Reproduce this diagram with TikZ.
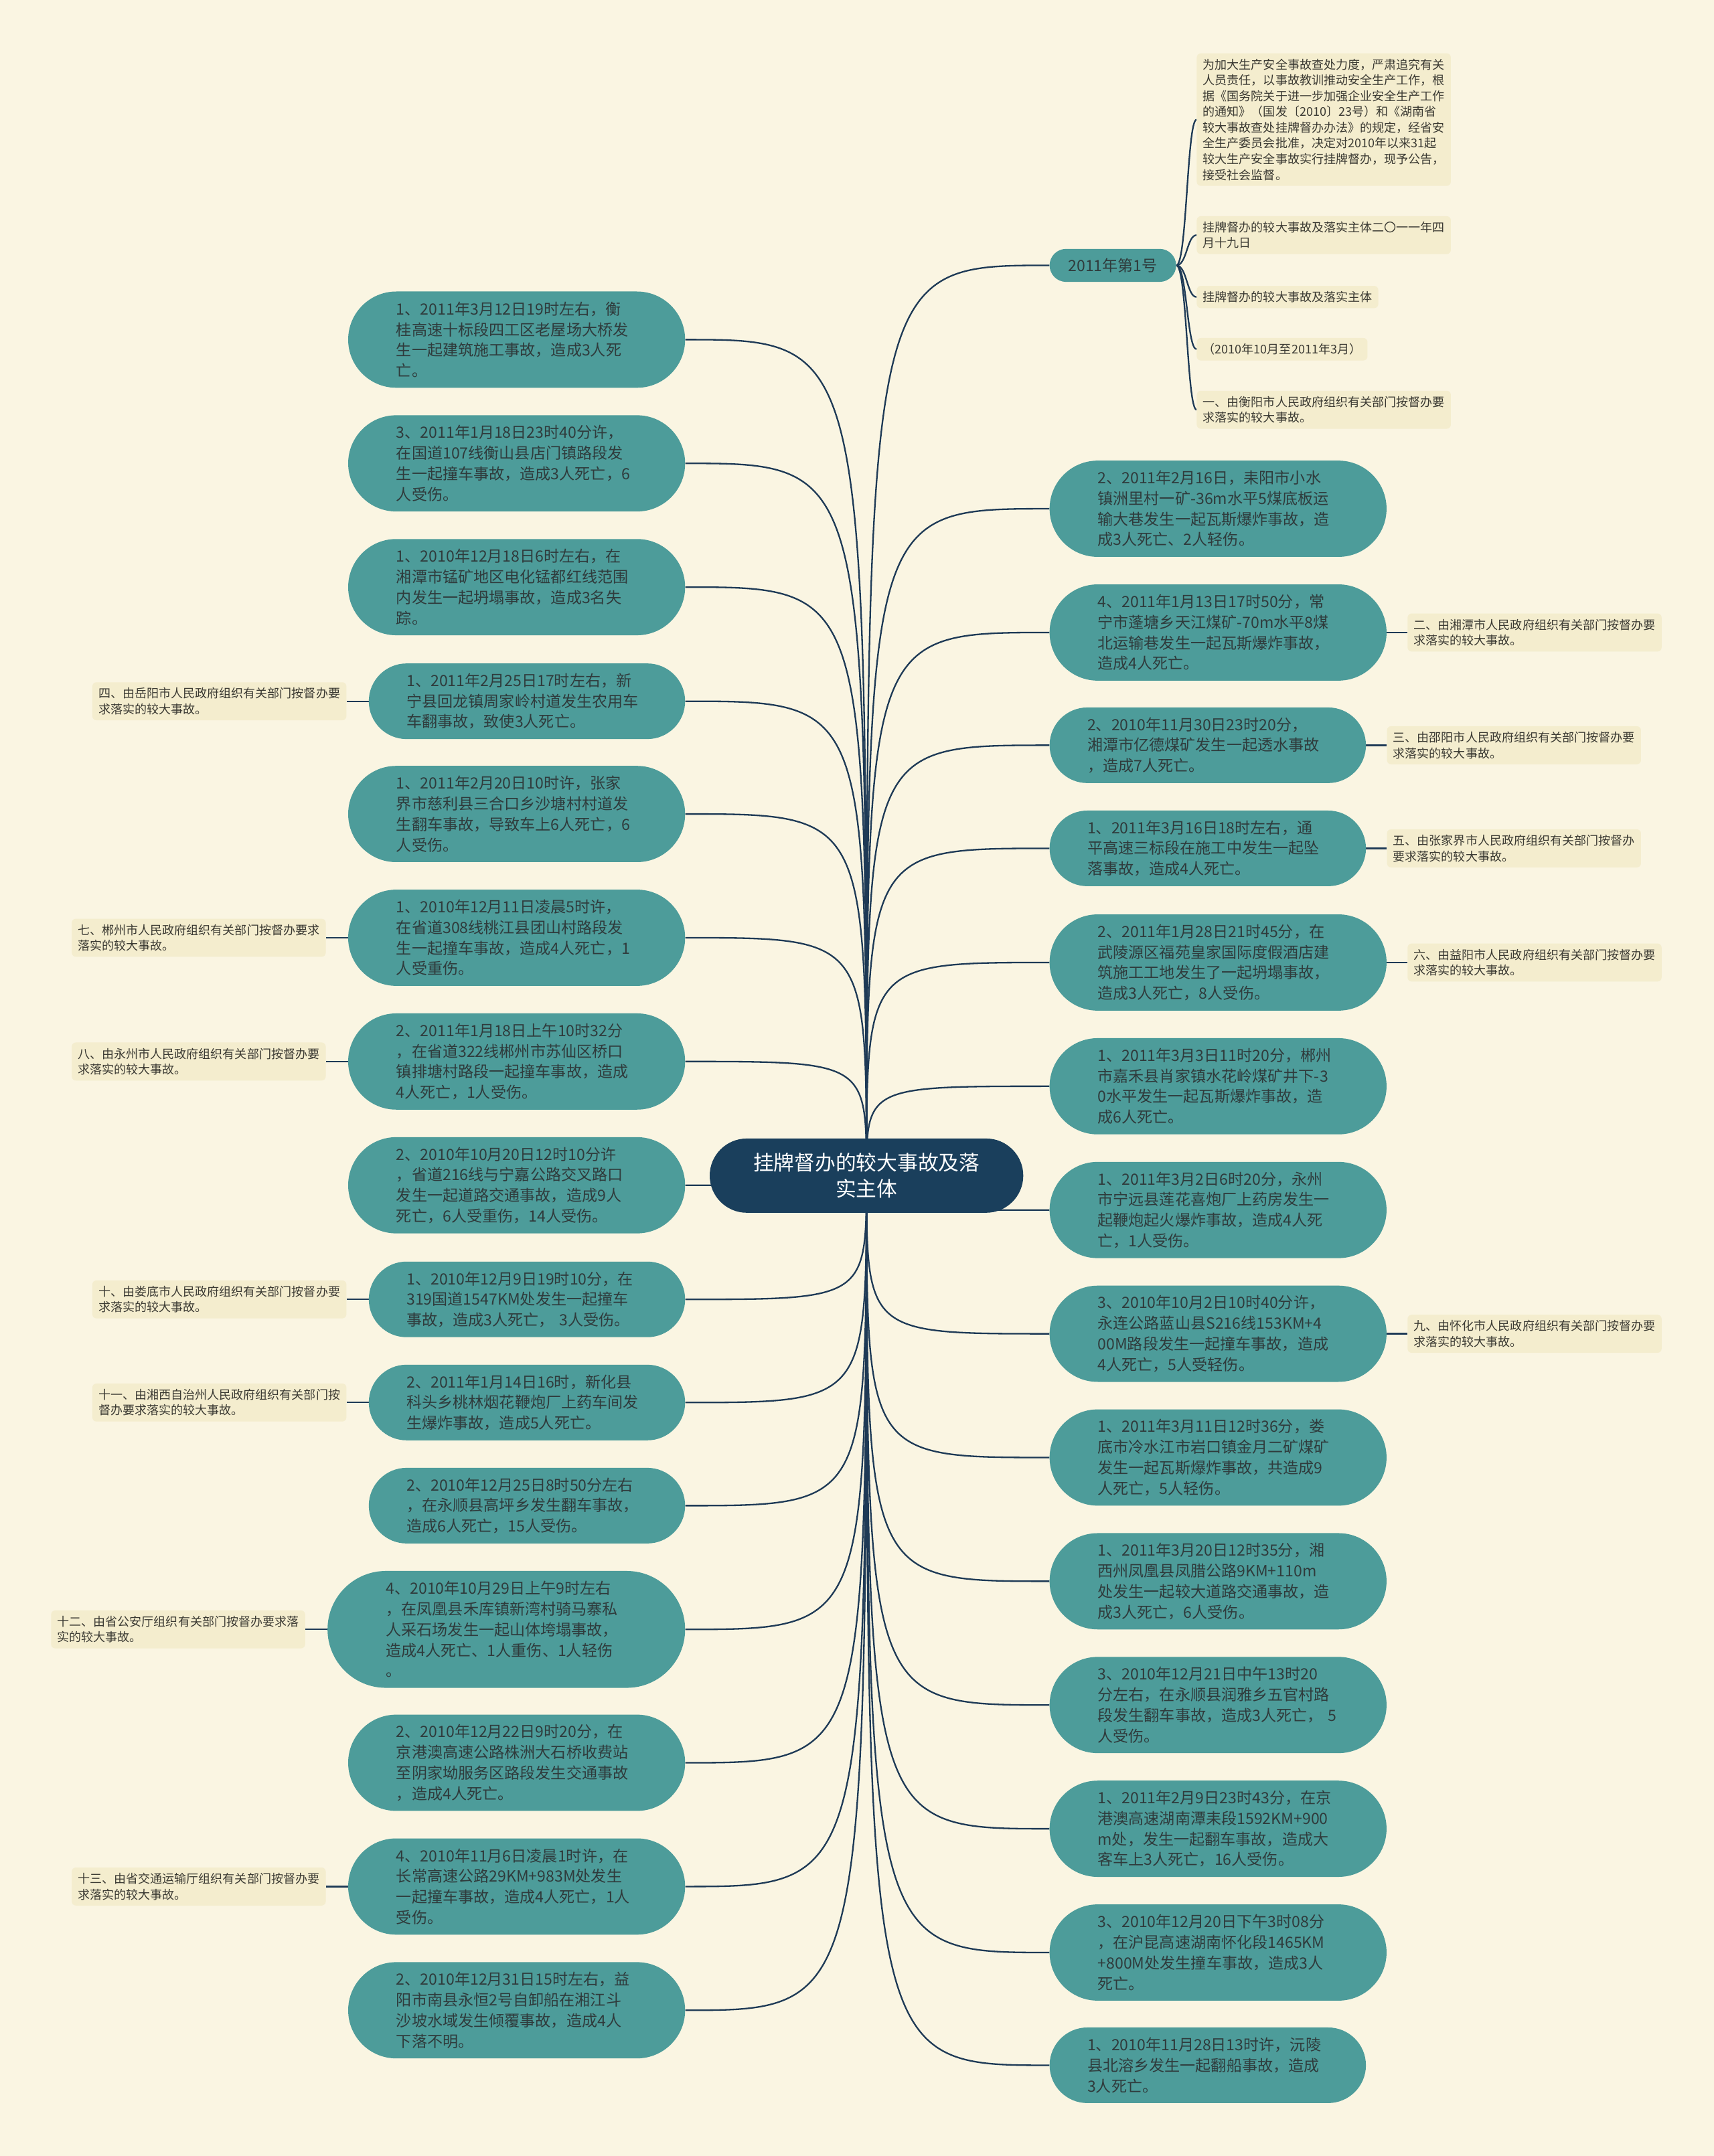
\documentclass[tikz,border=0pt]{standalone}
\usepackage{fontspec}
\setmainfont{Noto Sans CJK SC}
\usepackage{xcolor}
\usepackage{tikz}
\usetikzlibrary{positioning}
\definecolor{kbg}{HTML}{FAF5E2}
\definecolor{ktag}{HTML}{F4EDCE}
\definecolor{kteal}{HTML}{4D9C9A}
\definecolor{knavy}{HTML}{1A3F5C}
\definecolor{kline}{HTML}{1E3A56}
\definecolor{kink}{HTML}{2F3B3C}
\definecolor{ktext}{HTML}{3B3A33}
\newcommand\leaffont{\fontsize{16}{21.3}\selectfont}
\newcommand\tagfont{\fontsize{12.5}{16.3}\selectfont}
\newcommand\hubfont{\fontsize{21.3}{27}\selectfont}
\pgfdeclarelayer{canvas}
\pgfdeclarelayer{links}
\pgfsetlayers{canvas,links,main}

\begin{document}
\begin{tikzpicture}[x=0.05cm, y=-0.05cm,
  leaf/.style={rectangle, fill=kteal, text=kink, font=\leaffont, align=left, text width=8.75cm, inner sep=0pt, anchor=west, minimum width=12.25cm},
  slim/.style={minimum width=11.5cm},
  broad/.style={minimum width=13cm},
  rows3/.style={minimum height=2.75cm, rounded corners=1.375cm},
  rows4/.style={minimum height=3.5cm, rounded corners=1.75cm},
  rows5/.style={minimum height=4.25cm, rounded corners=2.125cm},
  tag/.style={rectangle, fill=ktag, text=ktext, font=\tagfont, align=left, inner xsep=0.225cm, inner ysep=0.2cm, rounded corners=0.15cm},
  hub/.style={rectangle, fill=knavy, text=white, font=\hubfont, align=center, text width=9cm, minimum width=11.4cm, minimum height=2.7cm, rounded corners=1.35cm, inner sep=0pt},
  pill/.style={rectangle, fill=kteal, text=kink, font=\leaffont, minimum width=4.6cm, minimum height=1.2cm, rounded corners=0.6cm, inner sep=0pt, anchor=west},
  link/.style={draw=kline, line width=1.6pt}]
\begin{pgfonlayer}{canvas}
\fill[kbg] (0,0) rectangle (1246,1568);
\end{pgfonlayer}

\node[hub] (ctr) at (630,855) {挂牌督办的较大事故及落\\实主体};

\node[leaf, rows4] (l1) at (253,247) {1、2011年3月12日19时左右，衡\\桂高速十标段四工区老屋场大桥发\\生一起建筑施工事故，造成3人死\\亡。};
\node[leaf, rows4] (l2) at (253,337) {3、2011年1月18日23时40分许，\\在国道107线衡山县店门镇路段发\\生一起撞车事故，造成3人死亡，6\\人受伤。};
\node[leaf, rows4] (l3) at (253,427) {1、2010年12月18日6时左右，在\\湘潭市锰矿地区电化锰都红线范围\\内发生一起坍塌事故，造成3名失\\踪。};
\node[leaf, slim, rows3] (l4) at (268,510) {1、2011年2月25日17时左右，新\\宁县回龙镇周家岭村道发生农用车\\车翻事故，致使3人死亡。};
\node[leaf, rows4] (l5) at (253,592) {1、2011年2月20日10时许，张家\\界市慈利县三合口乡沙塘村村道发\\生翻车事故，导致车上6人死亡，6\\人受伤。};
\node[leaf, rows4] (l6) at (253,682) {1、2010年12月11日凌晨5时许，\\在省道308线桃江县团山村路段发\\生一起撞车事故，造成4人死亡，1\\人受重伤。};
\node[leaf, rows4] (l7) at (253,772) {2、2011年1月18日上午10时32分\\，在省道322线郴州市苏仙区桥口\\镇排塘村路段一起撞车事故，造成\\4人死亡，1人受伤。};
\node[leaf, rows4] (l8) at (253,862) {2、2010年10月20日12时10分许\\，省道216线与宁嘉公路交叉路口\\发生一起道路交通事故，造成9人\\死亡，6人受重伤，14人受伤。};
\node[leaf, slim, rows3] (l9) at (268,945) {1、2010年12月9日19时10分，在\\319国道1547KM处发生一起撞车\\事故，造成3人死亡， 3人受伤。};
\node[leaf, slim, rows3] (l10) at (268,1020) {2、2011年1月14日16时，新化县\\科头乡桃林烟花鞭炮厂上药车间发\\生爆炸事故，造成5人死亡。};
\node[leaf, slim, rows3] (l11) at (268,1095) {2、2010年12月25日8时50分左右\\，在永顺县高坪乡发生翻车事故，\\造成6人死亡，15人受伤。};
\node[leaf, broad, rows5] (l12) at (238,1185) {4、2010年10月29日上午9时左右\\，在凤凰县禾库镇新湾村骑马寨私\\人采石场发生一起山体垮塌事故，\\造成4人死亡、1人重伤、1人轻伤\\。};
\node[leaf, rows4] (l13) at (253,1282) {2、2010年12月22日9时20分，在\\京港澳高速公路株洲大石桥收费站\\至阴家坳服务区路段发生交通事故\\，造成4人死亡。};
\node[leaf, rows4] (l14) at (253,1372) {4、2010年11月6日凌晨1时许，在\\长常高速公路29KM+983M处发生\\一起撞车事故，造成4人死亡，1人\\受伤。};
\node[leaf, rows4] (l15) at (253,1462) {2、2010年12月31日15时左右，益\\阳市南县永恒2号自卸船在湘江斗\\沙坡水域发生倾覆事故，造成4人\\下落不明。};

\node[pill] (yr) at (763,193) {2011年第1号};
\node[leaf, rows4] (r1) at (763,370) {2、2011年2月16日，耒阳市小水\\镇洲里村一矿-36m水平5煤底板运\\输大巷发生一起瓦斯爆炸事故，造\\成3人死亡、2人轻伤。};
\node[leaf, rows4] (r2) at (763,460) {4、2011年1月13日17时50分，常\\宁市蓬塘乡天江煤矿-70m水平8煤\\北运输巷发生一起瓦斯爆炸事故，\\造成4人死亡。};
\node[leaf, slim, rows3] (r3) at (763,542) {2、2010年11月30日23时20分，\\湘潭市亿德煤矿发生一起透水事故\\，造成7人死亡。};
\node[leaf, slim, rows3] (r4) at (763,617) {1、2011年3月16日18时左右，通\\平高速三标段在施工中发生一起坠\\落事故，造成4人死亡。};
\node[leaf, rows4] (r5) at (763,700) {2、2011年1月28日21时45分，在\\武陵源区福苑皇家国际度假酒店建\\筑施工工地发生了一起坍塌事故，\\造成3人死亡，8人受伤。};
\node[leaf, rows4] (r6) at (763,790) {1、2011年3月3日11时20分，郴州\\市嘉禾县肖家镇水花岭煤矿井下-3\\0水平发生一起瓦斯爆炸事故，造\\成6人死亡。};
\node[leaf, rows4] (r7) at (763,880) {1、2011年3月2日6时20分，永州\\市宁远县莲花喜炮厂上药房发生一\\起鞭炮起火爆炸事故，造成4人死\\亡，1人受伤。};
\node[leaf, rows4] (r8) at (763,970) {3、2010年10月2日10时40分许，\\永连公路蓝山县S216线153KM+4\\00M路段发生一起撞车事故，造成\\4人死亡，5人受轻伤。};
\node[leaf, rows4] (r9) at (763,1060) {1、2011年3月11日12时36分，娄\\底市冷水江市岩口镇金月二矿煤矿\\发生一起瓦斯爆炸事故，共造成9\\人死亡，5人轻伤。};
\node[leaf, rows4] (r10) at (763,1150) {1、2011年3月20日12时35分，湘\\西州凤凰县凤腊公路9KM+110m\\处发生一起较大道路交通事故，造\\成3人死亡，6人受伤。};
\node[leaf, rows4] (r11) at (763,1240) {3、2010年12月21日中午13时20\\分左右，在永顺县润雅乡五官村路\\段发生翻车事故，造成3人死亡， 5\\人受伤。};
\node[leaf, rows4] (r12) at (763,1330) {1、2011年2月9日23时43分，在京\\港澳高速湖南潭耒段1592KM+900\\m处，发生一起翻车事故，造成大\\客车上3人死亡，16人受伤。};
\node[leaf, rows4] (r13) at (763,1420) {3、2010年12月20日下午3时08分\\，在沪昆高速湖南怀化段1465KM\\+800M处发生撞车事故，造成3人\\死亡。};
\node[leaf, slim, rows3] (r14) at (763,1502) {1、2010年11月28日13时许，沅陵\\县北溶乡发生一起翻船事故，造成\\3人死亡。};

\node[tag, anchor=west] (c1) at (870,87) {为加大生产安全事故查处力度，严肃追究有关\\人员责任，以事故教训推动安全生产工作，根\\据《国务院关于进一步加强企业安全生产工作\\的通知》（国发〔2010〕23号）和《湖南省\\较大事故查处挂牌督办办法》的规定，经省安\\全生产委员会批准，决定对2010年以来31起\\较大生产安全事故实行挂牌督办，现予公告，\\接受社会监督。};
\node[tag, anchor=west] (c2) at (870,171) {挂牌督办的较大事故及落实主体二〇一一年四\\月十九日};
\node[tag, anchor=west] (c3) at (870,216) {挂牌督办的较大事故及落实主体};
\node[tag, anchor=west] (c4) at (870,254) {（2010年10月至2011年3月）};
\node[tag, anchor=west] (c5) at (870,298) {一、由衡阳市人民政府组织有关部门按督办要\\求落实的较大事故。};
\coordinate (yk) at (863,193);

\node[tag, right=0.75cm of r2] (t2) {二、由湘潭市人民政府组织有关部门按督办要\\求落实的较大事故。};
\node[tag, right=0.75cm of r3] (t3) {三、由邵阳市人民政府组织有关部门按督办要\\求落实的较大事故。};
\node[tag, left=0.8cm of l4] (t4) {四、由岳阳市人民政府组织有关部门按督办要\\求落实的较大事故。};
\node[tag, right=0.75cm of r4] (t5) {五、由张家界市人民政府组织有关部门按督办\\要求落实的较大事故。};
\node[tag, right=0.75cm of r5] (t6) {六、由益阳市人民政府组织有关部门按督办要\\求落实的较大事故。};
\node[tag, left=0.8cm of l6] (t7) {七、郴州市人民政府组织有关部门按督办要求\\落实的较大事故。};
\node[tag, left=0.8cm of l7] (t8) {八、由永州市人民政府组织有关部门按督办要\\求落实的较大事故。};
\node[tag, right=0.75cm of r8] (t9) {九、由怀化市人民政府组织有关部门按督办要\\求落实的较大事故。};
\node[tag, left=0.8cm of l9] (t10) {十、由娄底市人民政府组织有关部门按督办要\\求落实的较大事故。};
\node[tag, left=0.8cm of l10] (t11) {十一、由湘西自治州人民政府组织有关部门按\\督办要求落实的较大事故。};
\node[tag, left=0.8cm of l12] (t12) {十二、由省公安厅组织有关部门按督办要求落\\实的较大事故。};
\node[tag, left=0.8cm of l14] (t13) {十三、由省交通运输厅组织有关部门按督办要\\求落实的较大事故。};

\begin{pgfonlayer}{links}
\foreach \i in {1,...,15}
  \draw[link] (ctr.center) .. controls (ctr.center |- l\i.east) .. (l\i.east);
\foreach \i in {1,...,14}
  \draw[link] (ctr.center) .. controls (ctr.center |- r\i.west) .. (r\i.west);
\draw[link] (ctr.center) .. controls (ctr.center |- yr.west) .. (yr.west);
\foreach \i in {1,...,5}
  \draw[link] (yr.east) .. controls (yk) and (yk |- c\i.west) .. (c\i.west);
\foreach \a/\b in {t2/r2, t3/r3, t4/l4, t5/r4, t6/r5, t7/l6, t8/l7, t9/r8, t10/l9, t11/l10, t12/l12, t13/l14}
  \draw[link] (\a) -- (\b);
\end{pgfonlayer}
\end{tikzpicture}
\end{document}
